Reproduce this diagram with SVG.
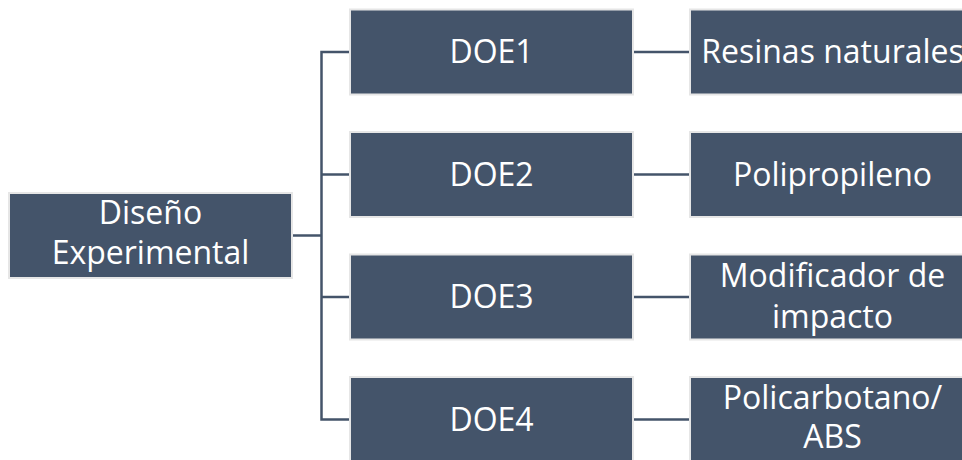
<svg xmlns="http://www.w3.org/2000/svg" width="962" height="460" viewBox="0 0 962 460">
  <style>
    .box { fill: #44546A; stroke: #E6E6E6; stroke-width: 2; }
    .lbl { fill: #FFFFFF; font-family: "Open Sans", "Noto Sans", sans-serif; font-size: 32px; text-anchor: middle; }
    .wire { fill: none; stroke: #44546A; stroke-width: 2.5; }
  </style>
  <rect width="962" height="460" fill="#FFFFFF"/>

  <!-- tree connectors -->
  <g id="connectors">
    <path class="wire" d="M293 235.5 H321.5"/>
    <path class="wire" d="M349 52 H321.5 V419.5 H349"/>
    <path class="wire" d="M321.5 174.5 H349"/>
    <path class="wire" d="M321.5 297 H349"/>
    <path class="wire" d="M634 52 H689"/>
    <path class="wire" d="M634 174.5 H689"/>
    <path class="wire" d="M634 297 H689"/>
    <path class="wire" d="M634 419.5 H689"/>
  </g>

  <!-- root -->
  <g id="root">
    <rect class="box" x="9" y="193" width="283" height="85"/>
    <text class="lbl" x="150.5" y="223.5">Diseño</text>
    <text class="lbl" x="150.5" y="263.5">Experimental</text>
  </g>

  <!-- experiment nodes -->
  <g id="doe1">
    <rect class="box" x="350" y="9.5" width="283" height="85"/>
    <text class="lbl" x="491.5" y="63">DOE1</text>
  </g>
  <g id="doe2">
    <rect class="box" x="350" y="132" width="283" height="85"/>
    <text class="lbl" x="491.5" y="185.5">DOE2</text>
  </g>
  <g id="doe3">
    <rect class="box" x="350" y="254.5" width="283" height="85"/>
    <text class="lbl" x="491.5" y="308">DOE3</text>
  </g>
  <g id="doe4">
    <rect class="box" x="350" y="377" width="283" height="85"/>
    <text class="lbl" x="491.5" y="430.5">DOE4</text>
  </g>

  <!-- material nodes -->
  <g id="mat1">
    <rect class="box" x="690" y="9.5" width="285" height="85"/>
    <text class="lbl" x="832.5" y="63">Resinas naturales</text>
  </g>
  <g id="mat2">
    <rect class="box" x="690" y="132" width="285" height="85"/>
    <text class="lbl" x="832.5" y="185.5">Polipropileno</text>
  </g>
  <g id="mat3">
    <rect class="box" x="690" y="254.5" width="285" height="85"/>
    <text class="lbl" x="832.5" y="287">Modificador de</text>
    <text class="lbl" x="832.5" y="327.5">impacto</text>
  </g>
  <g id="mat4">
    <rect class="box" x="690" y="377" width="285" height="85"/>
    <text class="lbl" x="832.5" y="408.5">Policarbotano/</text>
    <text class="lbl" x="832.5" y="448">ABS</text>
  </g>
</svg>
